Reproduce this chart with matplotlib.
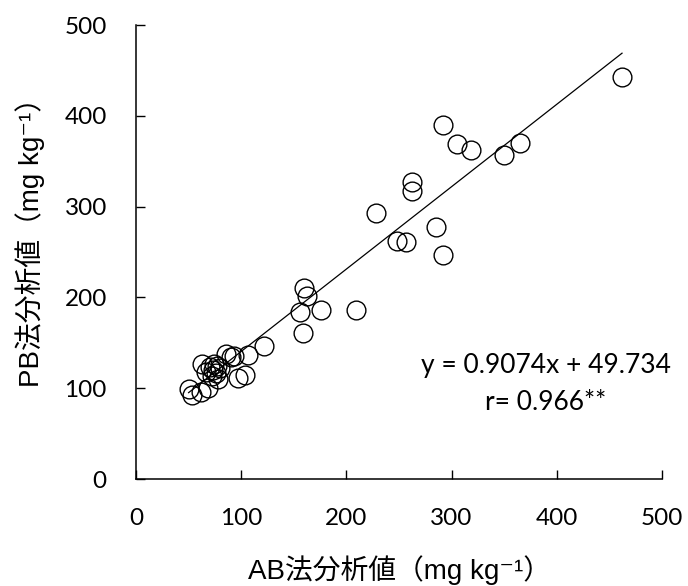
import numpy as np
import matplotlib
matplotlib.use('Agg')
import matplotlib.pyplot as plt

# AB法 / PB法 paired measurements (mg kg-1)
ab = [50, 53, 62, 68, 63, 67, 70, 72, 73, 74, 76, 77, 78, 80, 86, 90, 93, 97, 104, 106, 122,
      156, 159, 160, 163, 176, 209,
      228, 248, 257, 262, 262, 285, 292, 292, 305, 318, 350, 365, 462]
pb = [99, 93, 96, 100, 127, 118, 123, 113, 120, 127, 117, 124, 110, 122, 138, 134, 136, 111, 115, 137, 147,
      184, 161, 210, 202, 186, 186,
      293, 262, 261, 327, 317, 277, 247, 390, 369, 362, 357, 370, 443]

slope = 0.9074
intercept = 49.734
r_value = 0.966

num_font = 'Lato'
label_font = ['Liberation Sans', 'Noto Sans CJK JP', 'DejaVu Sans']

fig = plt.figure(figsize=(6.88, 5.86), dpi=100)
ax = fig.add_axes([136/688, 1-479/586, 526/688, 454/586])

ax.plot(ab, pb, 'o', ms=13.5, mfc='none', mec='black', mew=1.0, zorder=3)

xx = np.array([min(ab), max(ab)])
ax.plot(xx, slope*xx + intercept, color='black', lw=0.9, zorder=2)

ax.set_xlim(0, 500)
ax.set_ylim(0, 500)
ax.set_xticks(range(0, 501, 100))
ax.set_yticks(range(0, 501, 100))
for s in ['top', 'right']:
    ax.spines[s].set_visible(False)
for s in ['left', 'bottom']:
    ax.spines[s].set_linewidth(1.1)
ax.tick_params(direction='in', length=6.5, width=1.0)
ax.tick_params(axis='x', pad=21)
ax.tick_params(axis='y', pad=21)
for lab in ax.get_xticklabels() + ax.get_yticklabels():
    lab.set_fontfamily(num_font)
    lab.set_fontsize(17.5)

fig.text(399/688, 1-570/586, 'AB法分析値（mg kg⁻¹）', ha='center', va='center',
         fontsize=20, family=label_font)
fig.text(30/688, 1-235/586, 'PB法分析値（mg kg⁻¹）', ha='center', va='center',
         rotation=90, fontsize=20, family=label_font)

fig.text(546/688, 1-373/586, 'y = %.4fx + %.3f' % (slope, intercept), ha='center',
         va='baseline', fontsize=19, family=num_font)
fig.text(546/688, 1-410/586, 'r= %.3f**' % r_value, ha='center',
         va='baseline', fontsize=19, family=num_font)

fig.savefig('out.png', dpi=100)
